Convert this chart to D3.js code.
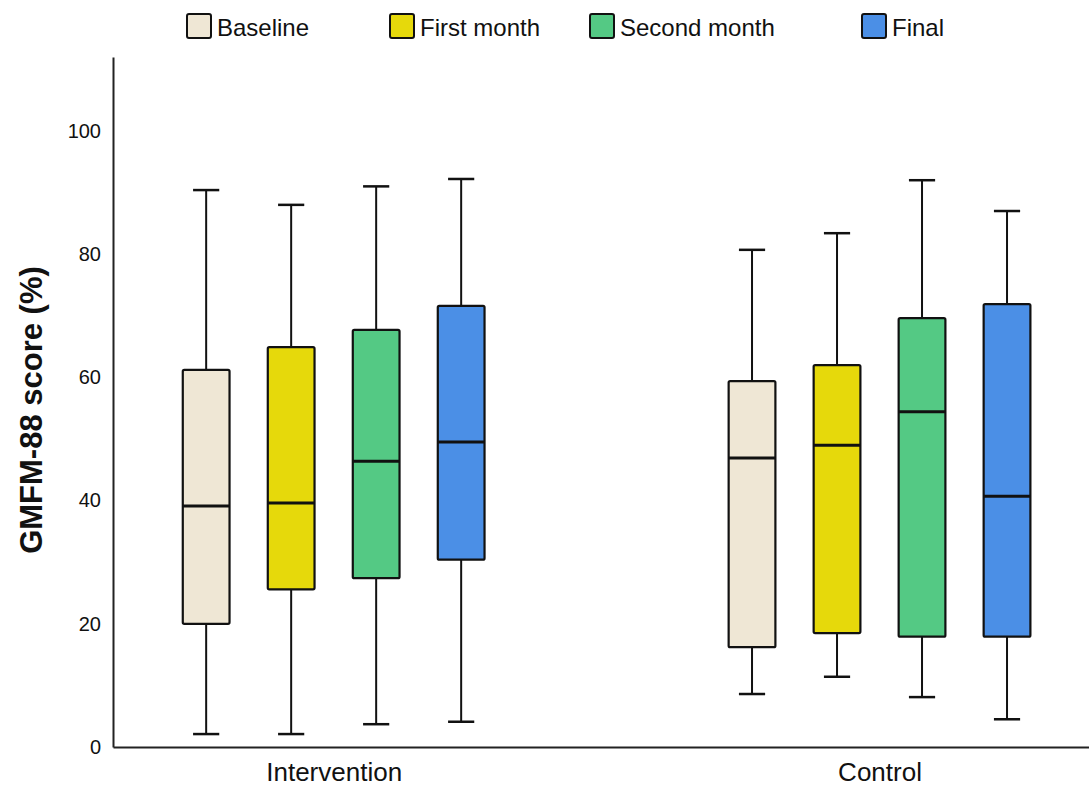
<!DOCTYPE html>
<html>
<head>
<meta charset="utf-8">
<script src="https://cdn.jsdelivr.net/npm/d3@7"></script>
<style>
  body { margin: 0; background: #fff; }
  text { font-family: Arial, "Liberation Sans", sans-serif; fill: #111; }
</style>
</head>
<body>
<div id="chart"></div>
<script>
// Data
var groups = ["Intervention", "Control"];
var series = ["Baseline", "First month", "Second month", "Final"];
var seriesColors = ["#efe7d5", "#e6d90b", "#54c984", "#4b8fe6"];
var yTicks = [0, 20, 40, 60, 80, 100];

// one row per group, one value per series
var whiskerLow  = [[2.1, 2.1, 3.7, 4.1], [8.6, 11.4, 8.1, 4.5]];
var quartile1   = [[20.0, 25.6, 27.4, 30.4], [16.2, 18.5, 17.9, 17.9]];
var medians     = [[39.1, 39.6, 46.4, 49.5], [46.9, 49.0, 54.4, 40.7]];
var quartile3   = [[61.2, 64.9, 67.7, 71.6], [59.4, 62.0, 69.6, 71.9]];
var whiskerHigh = [[90.4, 88.0, 91.0, 92.2], [80.7, 83.4, 92.0, 87.0]];

// legend swatch positions (layout only)
var legendX = [187, 390, 590, 862];

// SVG area
var svgWidth = 1089;
var svgHeight = 789;

var margin = {
  top: 57,
  right: 0,
  bottom: 42,
  left: 113
};

var chartWidth = svgWidth - margin.left - margin.right;
var chartHeight = svgHeight - margin.top - margin.bottom;

var svg = d3.select("#chart")
  .append("svg")
  .attr("width", svgWidth)
  .attr("height", svgHeight);

var chartGroup = svg.append("g")
  .attr("transform", `translate(${margin.left}, ${margin.top})`);

// Scales
var xGroup = d3.scalePoint()
  .domain(groups)
  .range([0, chartWidth])
  .padding(0.394)
  .align(0.513);

var xSeries = d3.scaleBand()
  .domain(series)
  .range([-170, 170])
  .paddingInner(0.45)
  .paddingOuter(0.225);

var yLinearScale = d3.scaleLinear()
  .domain([0, 112])
  .range([chartHeight, 0]);

// Flatten the arrays into box records
var boxes = [];
groups.forEach(function(g, gi) {
  series.forEach(function(s, si) {
    boxes.push({
      group: g,
      series: s,
      color: seriesColors[si],
      low: whiskerLow[gi][si],
      q1: quartile1[gi][si],
      median: medians[gi][si],
      q3: quartile3[gi][si],
      high: whiskerHigh[gi][si]
    });
  });
});

var bw = xSeries.bandwidth();
var capW = bw * 0.56;

var boxGroups = chartGroup.selectAll(".box")
  .data(boxes)
  .enter()
  .append("g")
  .attr("class", "box")
  .attr("transform", d => `translate(${xGroup(d.group) + xSeries(d.series) + bw / 2}, 0)`);

// whisker stems
boxGroups.append("line")
  .attr("x1", 0).attr("x2", 0)
  .attr("y1", d => yLinearScale(d.low))
  .attr("y2", d => yLinearScale(d.high))
  .attr("stroke", "#111")
  .attr("stroke-width", 2);

// whisker caps
boxGroups.selectAll(".cap")
  .data(d => [d.low, d.high])
  .enter()
  .append("line")
  .attr("class", "cap")
  .attr("x1", -capW / 2).attr("x2", capW / 2)
  .attr("y1", v => yLinearScale(v))
  .attr("y2", v => yLinearScale(v))
  .attr("stroke", "#111")
  .attr("stroke-width", 2.5);

// boxes
boxGroups.append("rect")
  .attr("x", -bw / 2)
  .attr("width", bw)
  .attr("y", d => yLinearScale(d.q3))
  .attr("height", d => yLinearScale(d.q1) - yLinearScale(d.q3))
  .attr("rx", 1.5)
  .attr("fill", d => d.color)
  .attr("stroke", "#111")
  .attr("stroke-width", 2.2);

// medians
boxGroups.append("line")
  .attr("x1", -bw / 2).attr("x2", bw / 2)
  .attr("y1", d => yLinearScale(d.median))
  .attr("y2", d => yLinearScale(d.median))
  .attr("stroke", "#111")
  .attr("stroke-width", 3);

// Axes
var leftAxis = d3.axisLeft(yLinearScale)
  .tickValues(yTicks)
  .tickSize(0)
  .tickPadding(12);

var yAxisG = chartGroup.append("g")
  .call(leftAxis);
yAxisG.select(".domain")
  .attr("stroke", "#222")
  .attr("stroke-width", 2);
yAxisG.selectAll("text")
  .attr("font-size", "20px")
  .attr("font-family", "Arial, 'Liberation Sans', sans-serif")
  .attr("fill", "#111");

var bottomAxis = d3.axisBottom(xGroup)
  .tickSize(0)
  .tickPadding(16);

var xAxisG = chartGroup.append("g")
  .attr("transform", `translate(0, ${chartHeight})`)
  .call(bottomAxis);
xAxisG.select(".domain")
  .attr("stroke", "#222")
  .attr("stroke-width", 2);
xAxisG.selectAll("text")
  .attr("font-size", "26px")
  .attr("font-family", "Arial, 'Liberation Sans', sans-serif")
  .attr("fill", "#111");

// Y axis label
chartGroup.append("text")
  .attr("transform", "rotate(-90)")
  .attr("x", 0 - (chartHeight / 2) - 8)
  .attr("y", 0 - margin.left + 42)
  .attr("text-anchor", "middle")
  .attr("font-size", "31px")
  .attr("font-weight", "bold")
  .text("GMFM-88 score (%)");

// Legend
var legend = svg.selectAll(".legend")
  .data(series)
  .enter()
  .append("g")
  .attr("class", "legend")
  .attr("transform", (d, i) => `translate(${legendX[i]}, 14)`);

legend.append("rect")
  .attr("width", 24)
  .attr("height", 24)
  .attr("rx", 2)
  .attr("fill", (d, i) => seriesColors[i])
  .attr("stroke", "#111")
  .attr("stroke-width", 2);

legend.append("text")
  .attr("x", 30)
  .attr("y", 22)
  .attr("font-size", "24px")
  .text(d => d);
</script>
</body>
</html>
